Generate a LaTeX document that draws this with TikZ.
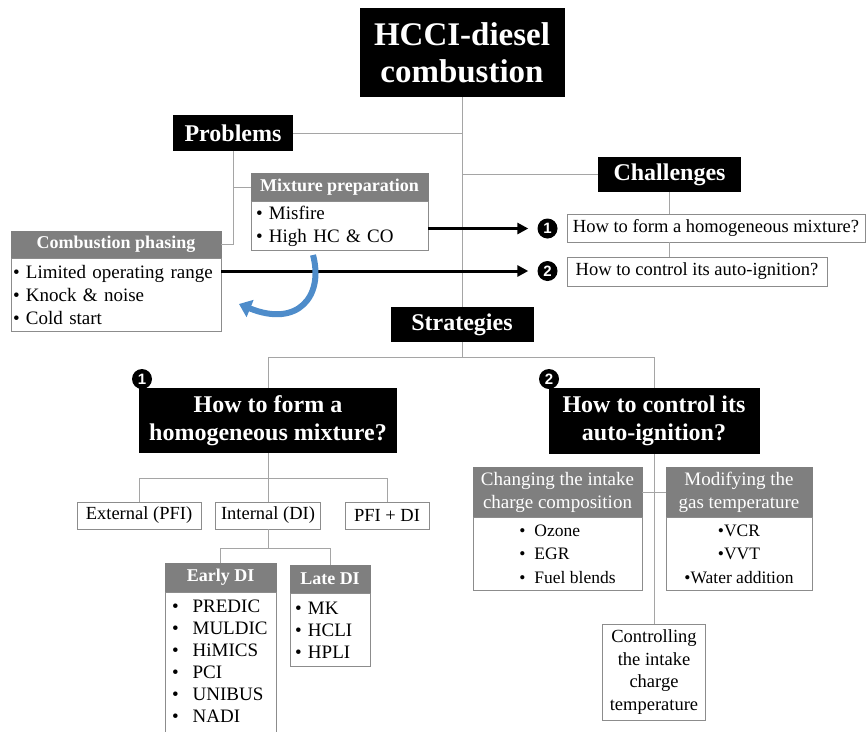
\documentclass[tikz,border=0pt]{standalone}
\usepackage{fontspec}
\setmainfont{Liberation Serif}
\newfontfamily\numfont{Liberation Sans}
\usetikzlibrary{arrows.meta, positioning}
\definecolor{hdrgray}{RGB}{127,127,127}
\definecolor{boxgray}{RGB}{140,140,140}
\definecolor{linegray}{RGB}{165,165,165}
\definecolor{curlblue}{RGB}{78,140,202}

\begin{document}
\begin{tikzpicture}[x=1pt, y=-1pt,
    every node/.style={inner sep=0pt, align=center},
    blackbox/.style={fill=black, text=white, font=\bfseries\fontsize{24}{28}\selectfont},
    hdr/.style={fill=hdrgray, draw=hdrgray, text=white, font=\bfseries\fontsize{18}{22}\selectfont},
    hdrthin/.style={fill=hdrgray, draw=hdrgray, text=white, font=\fontsize{19}{23}\selectfont},
    body/.style={draw=boxgray, fill=white, inner xsep=5pt, font=\fontsize{19}{23}\selectfont},
    plain/.style={draw=boxgray, fill=white, font=\fontsize{18.5}{22.5}\selectfont},
    num/.style={circle, fill=black, text=white, minimum size=20pt,
        font=\numfont\bfseries\fontsize{15}{15}\selectfont},
    link/.style={draw=linegray, line width=0.9pt},
    push/.style={line width=3pt, -{Triangle[length=11pt, width=11pt]}, shorten >=9pt},
    curl/.style={draw=curlblue, line width=6pt, -{Triangle[length=12pt, width=18pt]}}
]
\useasboundingbox (0,0) rectangle (866,731);

% main headings
\node[blackbox, minimum width=205pt, minimum height=89pt,
    font=\bfseries\fontsize{33}{37}\selectfont] (title) at (462,52.5) {HCCI-diesel\\combustion};
\node[blackbox, minimum width=120pt, minimum height=36pt] (problems) at (233,133) {Problems};
\node[blackbox, minimum width=143pt, minimum height=35pt] (challenges) at (669.5,174.5) {Challenges};
\node[blackbox, minimum width=143pt, minimum height=35pt] (strategies) at (462,324.5) {Strategies};

% problems
\node[hdr, minimum width=177pt, minimum height=28pt] (mixhdr) at (339.5,187) {Mixture preparation};
\node[body, text width=167pt, minimum height=49pt, anchor=north, align=left] (mixbody)
    at (mixhdr.south) {• Misfire\\• High HC \& CO};
\node[hdr, minimum width=210pt, minimum height=27pt] (phasehdr) at (116,244.5) {Combustion phasing};
\node[body, text width=206pt, minimum height=73pt, anchor=north, align=left, inner xsep=2pt] (phasebody)
    at (phasehdr.south) {• Limited operating range\\• Knock \& noise\\• Cold start};

% challenges
\node[plain, minimum width=298pt, minimum height=28pt] (ch1) at (716,228) {How to form a homogeneous mixture?};
\node[plain, minimum width=260pt, minimum height=29pt] (ch2) at (697,271.5) {How to control its auto-ignition?};
\node[num] (num1) at (547.5,228.5) {1};
\node[num] (num2) at (547.5,271) {2};

% strategies
\node[blackbox, minimum width=258pt, minimum height=65pt] (form) at (268,420.5) {How to form a\\homogeneous mixture?};
\node[blackbox, minimum width=211pt, minimum height=66pt] (control) at (654,421) {How to control its\\auto-ignition?};
\node[num] (numform) at (142,379) {1};
\node[num] (numcontrol) at (549,379) {2};

\node[plain, minimum width=124pt, minimum height=27pt] (external) at (139,515.5) {External (PFI)};
\node[plain, minimum width=105pt, minimum height=27pt] (internal) at (268,515.5) {Internal (DI)};
\node[plain, minimum width=84pt, minimum height=27pt] (pfidi) at (387,515.5) {PFI + DI};

\node[hdr, minimum width=111pt, minimum height=29pt] (earlyhdr) at (220.5,577.5) {Early DI};
\node[body, minimum width=111pt, minimum height=150pt, anchor=north] (earlybody) at (earlyhdr.south) {};
\node[anchor=north west, align=left, font=\fontsize{19}{22}\selectfont] (earlylist)
    at ([shift={(7,8)}]earlyhdr.south west)
    {•\hspace{14pt}PREDIC\\•\hspace{14pt}MULDIC\\•\hspace{14pt}HiMICS\\•\hspace{14pt}PCI\\•\hspace{14pt}UNIBUS\\•\hspace{14pt}NADI};
\node[hdr, minimum width=80pt, minimum height=28pt] (latehdr) at (330,579) {Late DI};
\node[body, text width=70pt, minimum height=73pt, anchor=north, align=left, inner xsep=5pt,
    font=\fontsize{19}{22}\selectfont] (latebody) at (latehdr.south) {• MK\\• HCLI\\• HPLI};

\node[hdrthin, minimum width=169pt, minimum height=50pt] (changehdr) at (557.5,492) {Changing the intake\\charge composition};
\node[body, minimum width=169pt, minimum height=73pt, anchor=north, align=left,
    font=\fontsize{17.5}{23.5}\selectfont] (changebody) at (changehdr.south)
    {\hspace*{20pt}•\hspace{9pt}Ozone\\\hspace*{20pt}•\hspace{9pt}EGR\\\hspace*{20pt}•\hspace{9pt}Fuel blends};
\node[hdrthin, minimum width=146pt, minimum height=50pt] (modhdr) at (739,492) {Modifying the\\gas temperature};
\node[body, minimum width=146pt, minimum height=73pt, anchor=north, align=center,
    font=\fontsize{17.5}{23.5}\selectfont] (modbody) at (modhdr.south)
    {•VCR\\•VVT\\•Water addition};
\node[plain, minimum width=103pt, minimum height=96pt] (controlling) at (654,672) {Controlling\\the intake\\charge\\temperature};

% connectors
\draw[link] (title.south) -- (strategies.north);
\draw[link] (problems.east) -- (problems.east -| title.south);
\draw[link] (challenges.west) -- (challenges.west -| title.south);
\draw[link] (problems.south) |- (phasehdr.east);
\draw[link] (problems.south |- mixhdr.west) -- (mixhdr.west);
\draw[link] (challenges.south) -- (challenges.south |- ch1.north);
\draw[link] (challenges.south |- ch1.south) -- (challenges.south |- ch2.north);

\draw[push] (mixbody.east |- num1) -- (num1.west);
\draw[push] (phasebody.east |- num2) -- (num2.west);
\draw[curl] (313,255) .. controls (324,296) and (298,328) .. (239,304);

\coordinate (sbar) at (462,357);
\draw[link] (strategies.south) -- (sbar);
\draw[link] (form.north) |- (sbar);
\draw[link] (control.north) |- (sbar);

\coordinate (fbar) at (268,478);
\draw[link] (form.south) -- (fbar);
\draw[link] (external.north) |- (fbar);
\draw[link] (pfidi.north) |- (fbar);
\draw[link] (internal.north) -- (fbar);

\draw[link] (internal.south) -- ++(0,19) coordinate (ibar);
\draw[link] (earlyhdr.north) |- (ibar);
\draw[link] (latehdr.north) |- (ibar);

\draw[link] (control.south) -- (controlling.north);
\draw[link] (changehdr.east) -- (modhdr.west);
\end{tikzpicture}
\end{document}
